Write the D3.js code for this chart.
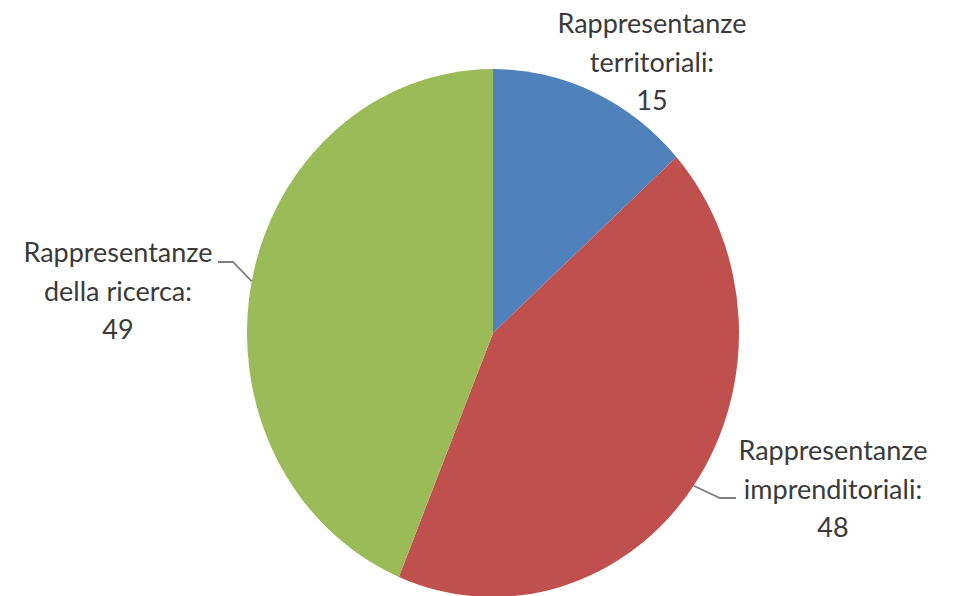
<!DOCTYPE html>
<html>
<head>
<meta charset="utf-8">
<script src="https://cdn.jsdelivr.net/npm/d3@7"></script>
<style>
  body { margin: 0; background: #fff; }
  svg { display: block; }
</style>
</head>
<body>
<svg id="drawing_region"></svg>
<script>
const categories = ["Rappresentanze territoriali", "Rappresentanze imprenditoriali", "Rappresentanze della ricerca"];
const values = [15, 48, 49];
const labelLines = [
    ["Rappresentanze", "territoriali:", "15"],
    ["Rappresentanze", "imprenditoriali:", "48"],
    ["Rappresentanze", "della ricerca:", "49"]
];
const colors = ["#4f81bd", "#c0504d", "#9bbb59"];

const data = categories.map((c, i) => ({ name: c, value: values[i], lines: labelLines[i], color: colors[i] }));

const config = {
    width: 955,
    height: 596,
    cx: 493,
    cy: 333,
    rx: 246,
    ry: 264
};

const svg = d3.select("#drawing_region")
    .attr("width", config.width)
    .attr("height", config.height);

const pie = d3.pie()
    .sort(null)
    .value(d => d.value);

const arc = d3.arc()
    .innerRadius(0)
    .outerRadius(config.rx);

const arcs = pie(data);

// the original pie is slightly stretched vertically
const chart = svg.append("g")
    .attr("transform", `translate(${config.cx},${config.cy}) scale(1,${config.ry / config.rx})`);

chart.selectAll("path")
    .data(arcs)
    .enter()
    .append("path")
    .attr("d", arc)
    .attr("fill", d => d.data.color);

// point on the ellipse edge at the slice's middle angle
function edgePoint(d) {
    const a = (d.startAngle + d.endAngle) / 2;
    return [config.cx + config.rx * Math.sin(a), config.cy - config.ry * Math.cos(a)];
}

// label layout: centre x, first baseline, leader elbow and end
const labelPos = [
    { x: 652, y: 33, leader: null },
    { x: 833, y: 460, leader: { elbow: [720, 498], end: [736, 498] } },
    { x: 118, y: 262, leader: { elbow: [233, 262], end: [218, 262] } }
];

const lineGap = 38.5;

arcs.forEach((d, i) => {
    const p = labelPos[i];
    if (p.leader) {
        const start = edgePoint(d);
        svg.append("polyline")
            .attr("points", [start, p.leader.elbow, p.leader.end].map(q => q.join(",")).join(" "))
            .attr("fill", "none")
            .attr("stroke", "#7f7f7f")
            .attr("stroke-width", 1.8);
    }
    const text = svg.append("text")
        .attr("text-anchor", "middle")
        .attr("font-family", "Lato, 'Open Sans', sans-serif")
        .attr("font-size", 27)
        .attr("fill", "#3a3a3a");
    d.data.lines.forEach((line, j) => {
        text.append("tspan")
            .attr("x", p.x)
            .attr("y", p.y + j * lineGap)
            .text(line);
    });
});
</script>
</body>
</html>
